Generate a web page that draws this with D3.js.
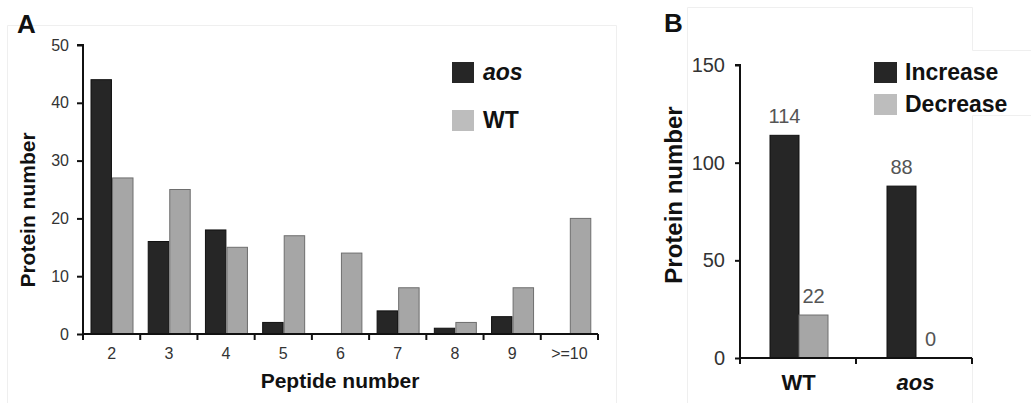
<!DOCTYPE html>
<html>
<head>
<meta charset="utf-8">
<script src="https://cdn.jsdelivr.net/npm/d3@7"></script>
<style>
body { margin: 0; background: #fff; }
svg { display: block; font-family: Arial, "Liberation Sans", sans-serif; }
</style>
</head>
<body>
<div id="chart"></div>
<script>
// Panel A data
var peptideCats = ["2", "3", "4", "5", "6", "7", "8", "9", ">=10"];
var aosCounts = [44, 16, 18, 2, 0, 4, 1, 3, 0];
var wtCounts = [27, 25, 15, 17, 14, 8, 2, 8, 20];
var ticksA = [0, 10, 20, 30, 40, 50];

// Panel B data
var genotypes = ["WT", "aos"];
var increaseCounts = [114, 88];
var decreaseCounts = [22, 0];
var ticksB = [0, 50, 100, 150];

var dark = "#262626", darkLine = "#111";
var grey = "#a6a6a6", greyLine = "#6e6e6e", greyKey = "#bdbdbd";

var svg = d3.select("#chart").append("svg")
  .attr("width", 1031)
  .attr("height", 403);

// faint frame lines left over from the composed figure
var frame = svg.append("g").attr("fill", "none").attr("stroke", "#efefef").attr("stroke-width", 1);
frame.append("path").attr("d", "M7.5,403 V25.5 H616.5 V403");
frame.append("path").attr("d", "M687.5,403 V7.5 H972.5 V50.5 H1031 M1031,115.5 H972.5 V403");

// ---------- panel A ----------
var gA = svg.append("g");
var yA = d3.scaleLinear().domain([0, 50]).range([334, 45]);
var xA = d3.scaleBand().domain(peptideCats).range([83, 598]);
var xSeries = d3.scaleBand().domain(["aos", "WT"]).range([8, 50]).paddingInner(0.05);

var groupsA = gA.selectAll(".grp").data(peptideCats).enter().append("g")
  .attr("transform", function(d) { return "translate(" + xA(d) + ",0)"; });

groupsA.append("rect")
  .attr("x", xSeries("aos"))
  .attr("width", xSeries.bandwidth())
  .attr("y", function(d, i) { return yA(aosCounts[i]); })
  .attr("height", function(d, i) { return yA(0) - yA(aosCounts[i]); })
  .attr("fill", dark)
  .attr("stroke", darkLine)
  .attr("stroke-width", function(d, i) { return aosCounts[i] > 0 ? 1 : 0; });

groupsA.append("rect")
  .attr("x", xSeries("WT"))
  .attr("width", xSeries.bandwidth())
  .attr("y", function(d, i) { return yA(wtCounts[i]); })
  .attr("height", function(d, i) { return yA(0) - yA(wtCounts[i]); })
  .attr("fill", grey)
  .attr("stroke", greyLine)
  .attr("stroke-width", 1);

var yAxisA = gA.append("g")
  .attr("transform", "translate(83,0)")
  .call(d3.axisLeft(yA).tickValues(ticksA).tickSize(6).tickPadding(8));
yAxisA.select(".domain").attr("d", "M-6," + yA(50) + "H0V" + yA(0));

var xAxisA = gA.append("g")
  .attr("transform", "translate(0,334)")
  .call(d3.axisBottom(xA).tickSize(0).tickPadding(14));
xAxisA.select(".domain").attr("d", "M83,0H598");

// boundary ticks between categories
var edgesA = d3.range(peptideCats.length + 1);
gA.selectAll(".edge").data(edgesA).enter().append("line")
  .attr("x1", function(d) { return 83 + d * xA.step(); })
  .attr("x2", function(d) { return 83 + d * xA.step(); })
  .attr("y1", 334).attr("y2", 340)
  .attr("stroke", darkLine).attr("stroke-width", 2);

gA.selectAll(".tick text").attr("font-size", 16).attr("fill", "#333").attr("font-family", null);
gA.selectAll(".domain, .tick line").attr("stroke", darkLine).attr("stroke-width", 2);

gA.append("text")
  .attr("transform", "translate(35,210) rotate(-90)")
  .attr("text-anchor", "middle")
  .attr("font-size", 21).attr("font-weight", "bold").attr("fill", "#111")
  .text("Protein number");

gA.append("text")
  .attr("x", 340).attr("y", 388)
  .attr("text-anchor", "middle")
  .attr("font-size", 21).attr("font-weight", "bold").attr("fill", "#111")
  .text("Peptide number");

gA.append("text")
  .attr("x", 17).attr("y", 33)
  .attr("font-size", 26).attr("font-weight", "bold").attr("fill", "#111")
  .text("A");

// legend A
var legA = [{name: "aos", fill: dark, italic: true}, {name: "WT", fill: greyKey, italic: false}];
var legGA = gA.selectAll(".leg").data(legA).enter().append("g")
  .attr("transform", function(d, i) { return "translate(452," + (62 + i * 48) + ")"; });
legGA.append("rect").attr("width", 22).attr("height", 21).attr("fill", function(d) { return d.fill; });
legGA.append("text")
  .attr("x", 31).attr("y", 18)
  .attr("font-size", 23).attr("font-weight", "bold").attr("fill", "#111")
  .attr("font-style", function(d) { return d.italic ? "italic" : "normal"; })
  .text(function(d) { return d.name; });

// ---------- panel B ----------
var gB = svg.append("g");
var yB = d3.scaleLinear().domain([0, 150]).range([358, 65]);
var xB = d3.scaleBand().domain(genotypes).range([740, 974]);
var xSub = d3.scaleBand().domain(["inc", "dec"]).range([30, 88]);

var groupsB = gB.selectAll(".grpB").data(genotypes).enter().append("g")
  .attr("transform", function(d) { return "translate(" + xB(d) + ",0)"; });

groupsB.append("rect")
  .attr("x", xSub("inc"))
  .attr("width", xSub.bandwidth())
  .attr("y", function(d, i) { return yB(increaseCounts[i]); })
  .attr("height", function(d, i) { return yB(0) - yB(increaseCounts[i]); })
  .attr("fill", dark).attr("stroke", darkLine).attr("stroke-width", 1);

groupsB.append("rect")
  .attr("x", xSub("dec"))
  .attr("width", xSub.bandwidth())
  .attr("y", function(d, i) { return yB(decreaseCounts[i]); })
  .attr("height", function(d, i) { return yB(0) - yB(decreaseCounts[i]); })
  .attr("fill", grey).attr("stroke", greyLine)
  .attr("stroke-width", function(d, i) { return decreaseCounts[i] > 0 ? 1 : 0; });

groupsB.append("text")
  .attr("x", xSub("inc") + xSub.bandwidth() / 2)
  .attr("y", function(d, i) { return yB(increaseCounts[i]) - 12; })
  .attr("text-anchor", "middle").attr("font-size", 20).attr("fill", "#555")
  .text(function(d, i) { return increaseCounts[i]; });

groupsB.append("text")
  .attr("x", xSub("dec") + xSub.bandwidth() / 2)
  .attr("y", function(d, i) { return yB(decreaseCounts[i]) - 12; })
  .attr("text-anchor", "middle").attr("font-size", 20).attr("fill", "#555")
  .text(function(d, i) { return decreaseCounts[i]; });

var yAxisB = gB.append("g")
  .attr("transform", "translate(740,0)")
  .call(d3.axisLeft(yB).tickValues(ticksB).tickSize(5).tickPadding(10));
yAxisB.select(".domain").attr("d", "M-5," + yB(150) + "H0V" + yB(0));

var xAxisB = gB.append("g")
  .attr("transform", "translate(0,358)")
  .call(d3.axisBottom(xB).tickSize(0).tickPadding(16));
xAxisB.select(".domain").attr("d", "M740,0H972");

gB.selectAll(".edgeB").data(d3.range(genotypes.length + 1)).enter().append("line")
  .attr("x1", function(d) { return 740 + d * 116; })
  .attr("x2", function(d) { return 740 + d * 116; })
  .attr("y1", 358).attr("y2", 364)
  .attr("stroke", darkLine).attr("stroke-width", 2);

yAxisB.selectAll(".tick text").attr("font-size", 20).attr("fill", "#333").attr("font-family", null);
xAxisB.selectAll(".tick text")
  .attr("font-size", 22).attr("font-weight", "bold").attr("fill", "#111").attr("font-family", null)
  .attr("font-style", function(d) { return d === "aos" ? "italic" : "normal"; });
gB.selectAll(".domain, .tick line").attr("stroke", darkLine).attr("stroke-width", 2);

gB.append("text")
  .attr("transform", "translate(682,195) rotate(-90)")
  .attr("text-anchor", "middle")
  .attr("font-size", 24).attr("font-weight", "bold").attr("fill", "#111")
  .text("Protein number");

gB.append("text")
  .attr("x", 664).attr("y", 32)
  .attr("font-size", 26).attr("font-weight", "bold").attr("fill", "#111")
  .text("B");

var legB = [{name: "Increase", fill: dark}, {name: "Decrease", fill: greyKey}];
var legGB = gB.selectAll(".legB").data(legB).enter().append("g")
  .attr("transform", function(d, i) { return "translate(874," + (62 + i * 32) + ")"; });
legGB.append("rect").attr("width", 23).attr("height", 21).attr("fill", function(d) { return d.fill; });
legGB.append("text")
  .attr("x", 31).attr("y", 18)
  .attr("font-size", 23).attr("font-weight", "bold").attr("fill", "#111")
  .text(function(d) { return d.name; });
</script>
</body>
</html>
